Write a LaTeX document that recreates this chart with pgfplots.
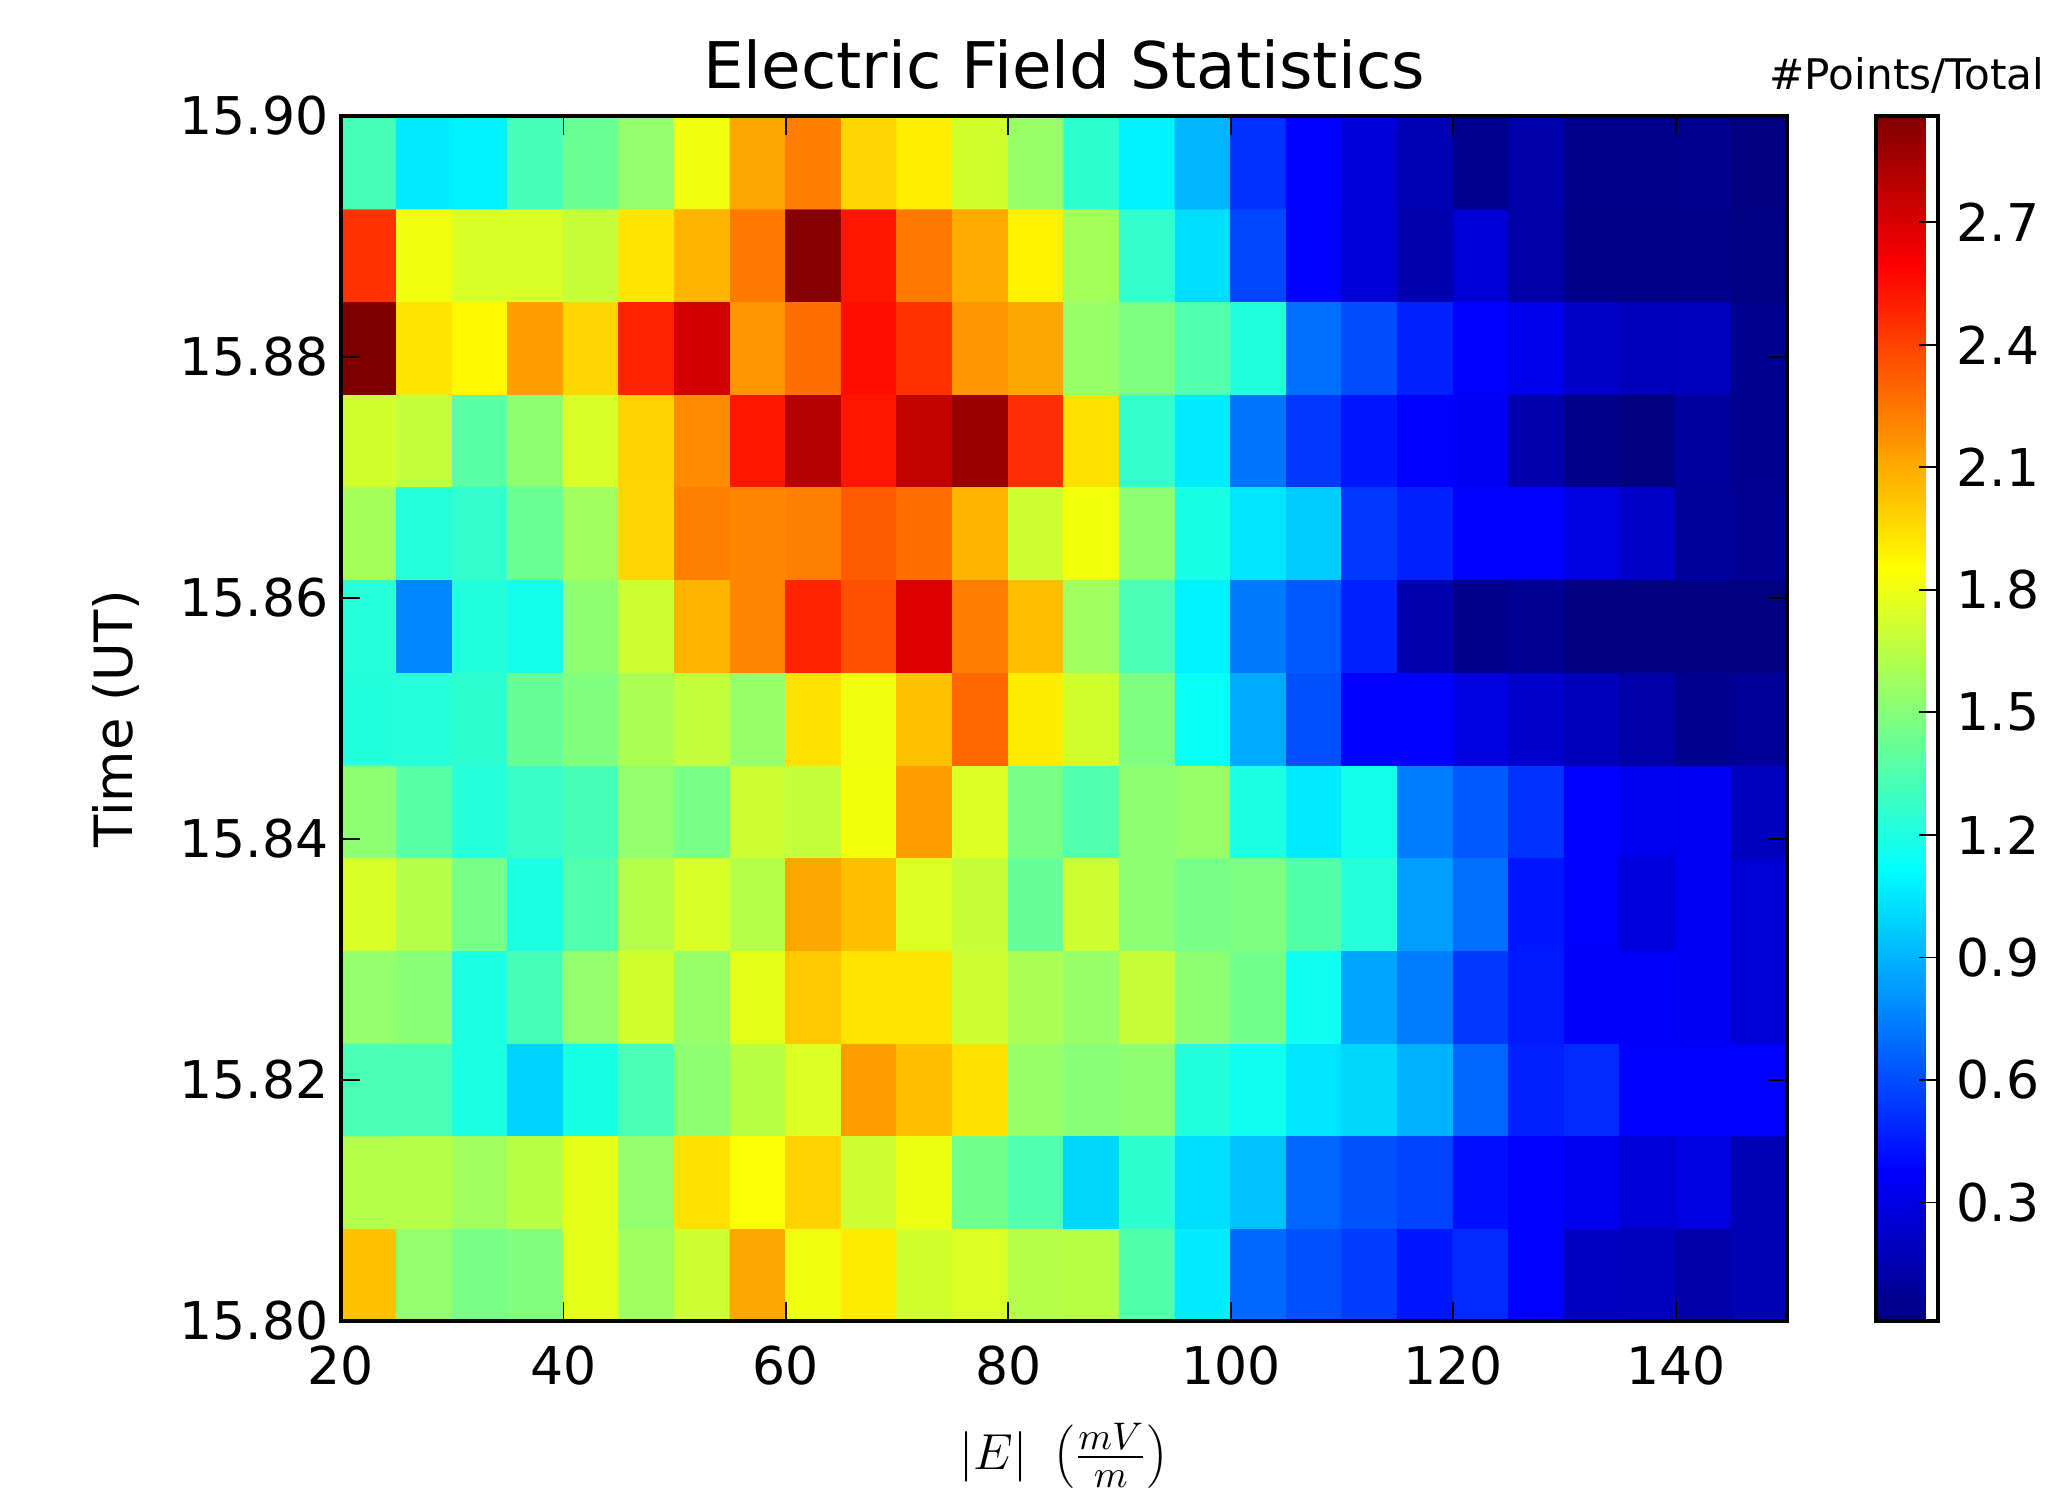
\documentclass[border=0pt]{standalone}
\usepackage{fontspec}
\setmainfont{DejaVu Sans}
\usepackage{pgfplots}
\pgfplotsset{compat=1.18}
\begin{document}
\begin{tikzpicture}
\path[use as bounding box] (-3.41,-1.74) rectangle (17.30,13.21);
\begin{axis}[
  at={(0,0)}, anchor=south west,
  scale only axis, width=14.46cm, height=12.05cm,
  xmin=20, xmax=150, ymin=15.80, ymax=15.90,
  enlargelimits=false, axis on top,
  colormap/jet, point meta min=0.01, point meta max=2.96,
  /pgf/number format/assume math mode=true,
  xtick={20,40,60,80,100,120,140},
  ytick={15.80,15.82,15.84,15.86,15.88,15.90},
  yticklabel style={/pgf/number format/fixed, /pgf/number format/precision=2, /pgf/number format/fixed zerofill},
  xticklabel style={yshift=-0.12cm},
  tick label style={font=\fontsize{14.8}{17}\selectfont},
  tick style={line width=0.5pt, black},
  major tick length=0.19cm, tick align=inside, tick pos=both,
  axis line style={line width=1pt},
  title={Electric Field Statistics},
  title style={font=\fontsize{18.3}{22}\selectfont, at={(axis description cs:0.5,1.025)}, anchor=center},
  xlabel={$|E|\ \left(\frac{mV}{m}\right)$},
  xlabel style={font=\fontsize{15.5}{18}\selectfont, at={(axis description cs:0.5,-0.112)}, anchor=center},
  ylabel={Time (UT)},
  ylabel style={font=\fontsize{15}{18}\selectfont, at={(axis description cs:-0.1556,0.5)}, anchor=center},
  colorbar,
  colorbar style={
    at={(parent axis.north east)}, anchor=north west, xshift=0.59cm,
    scale only axis, width=0.62cm, height=12.05cm,
    /pgf/number format/assume math mode=true,
    ytick={0.3,0.6,0.9,1.2,1.5,1.8,2.1,2.4,2.7},
    yticklabel style={/pgf/number format/fixed, /pgf/number format/precision=1, /pgf/number format/fixed zerofill, xshift=0.06cm},
    tick label style={font=\fontsize{14.8}{17}\selectfont},
    ytick pos=right, tick align=inside, major tick length=0.19cm,
    tick style={line width=0.5pt, black},
    axis line style={line width=1.1pt},
    title={\#Points/Total},
    title style={at={(0.5,1)}, anchor=center, yshift=0.19cm, font=\fontsize{12}{14}\selectfont},
  },
]
\addplot[matrix plot*, mesh/cols=26, point meta=explicit] table[x=x, y=y, meta=c] {
x y c
22.5 15.803846 2.03
27.5 15.803846 1.54
32.5 15.803846 1.46
37.5 15.803846 1.49
42.5 15.803846 1.78
47.5 15.803846 1.58
52.5 15.803846 1.71
57.5 15.803846 2.11
62.5 15.803846 1.81
67.5 15.803846 1.91
72.5 15.803846 1.72
77.5 15.803846 1.75
82.5 15.803846 1.64
87.5 15.803846 1.65
92.5 15.803846 1.36
97.5 15.803846 1.06
102.5 15.803846 0.68
107.5 15.803846 0.61
112.5 15.803846 0.55
117.5 15.803846 0.44
122.5 15.803846 0.50
127.5 15.803846 0.38
132.5 15.803846 0.21
137.5 15.803846 0.19
142.5 15.803846 0.12
147.5 15.803846 0.16
22.5 15.811538 1.64
27.5 15.811538 1.64
32.5 15.811538 1.58
37.5 15.811538 1.65
42.5 15.811538 1.78
47.5 15.811538 1.54
52.5 15.811538 1.94
57.5 15.811538 1.84
62.5 15.811538 1.98
67.5 15.811538 1.71
72.5 15.811538 1.80
77.5 15.811538 1.45
82.5 15.811538 1.35
87.5 15.811538 1.00
92.5 15.811538 1.25
97.5 15.811538 1.02
102.5 15.811538 0.94
107.5 15.811538 0.67
112.5 15.811538 0.62
117.5 15.811538 0.57
122.5 15.811538 0.42
127.5 15.811538 0.38
132.5 15.811538 0.33
137.5 15.811538 0.26
142.5 15.811538 0.29
147.5 15.811538 0.16
22.5 15.819231 1.33
27.5 15.819231 1.33
32.5 15.819231 1.20
37.5 15.819231 0.99
42.5 15.819231 1.19
47.5 15.819231 1.33
52.5 15.819231 1.52
57.5 15.819231 1.65
62.5 15.819231 1.75
67.5 15.819231 2.14
72.5 15.819231 2.04
77.5 15.819231 1.94
82.5 15.819231 1.55
87.5 15.819231 1.51
92.5 15.819231 1.52
97.5 15.819231 1.22
102.5 15.819231 1.16
107.5 15.819231 1.04
112.5 15.819231 1.00
117.5 15.819231 0.89
122.5 15.819231 0.67
127.5 15.819231 0.47
132.5 15.819231 0.50
137.5 15.819231 0.38
142.5 15.819231 0.38
147.5 15.819231 0.38
22.5 15.826923 1.54
27.5 15.826923 1.51
32.5 15.826923 1.20
37.5 15.826923 1.32
42.5 15.826923 1.54
47.5 15.826923 1.72
52.5 15.826923 1.55
57.5 15.826923 1.78
62.5 15.826923 2.01
67.5 15.826923 1.93
72.5 15.826923 1.93
77.5 15.826923 1.71
82.5 15.826923 1.61
87.5 15.826923 1.55
92.5 15.826923 1.69
97.5 15.826923 1.52
102.5 15.826923 1.45
107.5 15.826923 1.16
112.5 15.826923 0.86
117.5 15.826923 0.74
122.5 15.826923 0.54
127.5 15.826923 0.45
132.5 15.826923 0.37
137.5 15.826923 0.37
142.5 15.826923 0.35
147.5 15.826923 0.25
22.5 15.834615 1.74
27.5 15.834615 1.64
32.5 15.834615 1.46
37.5 15.834615 1.20
42.5 15.834615 1.35
47.5 15.834615 1.64
52.5 15.834615 1.74
57.5 15.834615 1.64
62.5 15.834615 2.11
67.5 15.834615 2.04
72.5 15.834615 1.75
77.5 15.834615 1.69
82.5 15.834615 1.41
87.5 15.834615 1.71
92.5 15.834615 1.52
97.5 15.834615 1.46
102.5 15.834615 1.48
107.5 15.834615 1.36
112.5 15.834615 1.23
117.5 15.834615 0.84
122.5 15.834615 0.70
127.5 15.834615 0.44
132.5 15.834615 0.38
137.5 15.834615 0.28
142.5 15.834615 0.35
147.5 15.834615 0.25
22.5 15.842308 1.52
27.5 15.842308 1.38
32.5 15.842308 1.23
37.5 15.842308 1.28
42.5 15.842308 1.32
47.5 15.842308 1.54
52.5 15.842308 1.46
57.5 15.842308 1.71
62.5 15.842308 1.68
67.5 15.842308 1.82
72.5 15.842308 2.13
77.5 15.842308 1.75
82.5 15.842308 1.46
87.5 15.842308 1.35
92.5 15.842308 1.52
97.5 15.842308 1.55
102.5 15.842308 1.20
107.5 15.842308 1.06
112.5 15.842308 1.17
117.5 15.842308 0.74
122.5 15.842308 0.64
127.5 15.842308 0.52
132.5 15.842308 0.38
137.5 15.842308 0.33
142.5 15.842308 0.35
147.5 15.842308 0.19
22.5 15.85 1.22
27.5 15.85 1.23
32.5 15.85 1.25
37.5 15.85 1.41
42.5 15.85 1.49
47.5 15.85 1.61
52.5 15.85 1.68
57.5 15.85 1.55
62.5 15.85 1.94
67.5 15.85 1.81
72.5 15.85 2.03
77.5 15.85 2.29
82.5 15.85 1.91
87.5 15.85 1.72
92.5 15.85 1.48
97.5 15.85 1.14
102.5 15.85 0.87
107.5 15.85 0.61
112.5 15.85 0.38
117.5 15.85 0.38
122.5 15.85 0.29
127.5 15.85 0.23
132.5 15.85 0.18
137.5 15.85 0.13
142.5 15.85 0.06
147.5 15.85 0.08
22.5 15.857692 1.23
27.5 15.857692 0.77
32.5 15.857692 1.22
37.5 15.857692 1.17
42.5 15.857692 1.52
47.5 15.857692 1.71
52.5 15.857692 2.07
57.5 15.857692 2.20
62.5 15.857692 2.49
67.5 15.857692 2.36
72.5 15.857692 2.69
77.5 15.857692 2.23
82.5 15.857692 2.04
87.5 15.857692 1.58
92.5 15.857692 1.33
97.5 15.857692 1.08
102.5 15.857692 0.73
107.5 15.857692 0.64
112.5 15.857692 0.47
117.5 15.857692 0.15
122.5 15.857692 0.04
127.5 15.857692 0.07
132.5 15.857692 0.01
137.5 15.857692 0.01
142.5 15.857692 0.01
147.5 15.857692 0.01
22.5 15.865385 1.59
27.5 15.865385 1.23
32.5 15.865385 1.26
37.5 15.865385 1.43
42.5 15.865385 1.58
47.5 15.865385 1.97
52.5 15.865385 2.22
57.5 15.865385 2.20
62.5 15.865385 2.22
67.5 15.865385 2.33
72.5 15.865385 2.27
77.5 15.865385 2.07
82.5 15.865385 1.71
87.5 15.865385 1.82
92.5 15.865385 1.52
97.5 15.865385 1.19
102.5 15.865385 1.04
107.5 15.865385 0.97
112.5 15.865385 0.54
117.5 15.865385 0.47
122.5 15.865385 0.38
127.5 15.865385 0.38
132.5 15.865385 0.29
137.5 15.865385 0.22
142.5 15.865385 0.09
147.5 15.865385 0.07
22.5 15.873077 1.72
27.5 15.873077 1.68
32.5 15.873077 1.38
37.5 15.873077 1.52
42.5 15.873077 1.74
47.5 15.873077 1.98
52.5 15.873077 2.19
57.5 15.873077 2.53
62.5 15.873077 2.81
67.5 15.873077 2.53
72.5 15.873077 2.77
77.5 15.873077 2.89
82.5 15.873077 2.46
87.5 15.873077 1.94
92.5 15.873077 1.26
97.5 15.873077 1.06
102.5 15.873077 0.71
107.5 15.873077 0.54
112.5 15.873077 0.44
117.5 15.873077 0.38
122.5 15.873077 0.35
127.5 15.873077 0.15
132.5 15.873077 0.04
137.5 15.873077 0.01
142.5 15.873077 0.10
147.5 15.873077 0.06
22.5 15.880769 2.96
27.5 15.880769 1.93
32.5 15.880769 1.87
37.5 15.880769 2.13
42.5 15.880769 1.97
47.5 15.880769 2.49
52.5 15.880769 2.72
57.5 15.880769 2.16
62.5 15.880769 2.27
67.5 15.880769 2.55
72.5 15.880769 2.45
77.5 15.880769 2.16
82.5 15.880769 2.11
87.5 15.880769 1.55
92.5 15.880769 1.48
97.5 15.880769 1.35
102.5 15.880769 1.22
107.5 15.880769 0.70
112.5 15.880769 0.60
117.5 15.880769 0.47
122.5 15.880769 0.38
127.5 15.880769 0.32
132.5 15.880769 0.22
137.5 15.880769 0.18
142.5 15.880769 0.20
147.5 15.880769 0.06
22.5 15.888462 2.45
27.5 15.888462 1.81
32.5 15.888462 1.74
37.5 15.888462 1.74
42.5 15.888462 1.69
47.5 15.888462 1.93
52.5 15.888462 2.07
57.5 15.888462 2.24
62.5 15.888462 2.94
67.5 15.888462 2.53
72.5 15.888462 2.24
77.5 15.888462 2.10
82.5 15.888462 1.89
87.5 15.888462 1.59
92.5 15.888462 1.26
97.5 15.888462 1.02
102.5 15.888462 0.58
107.5 15.888462 0.38
112.5 15.888462 0.26
117.5 15.888462 0.15
122.5 15.888462 0.26
127.5 15.888462 0.12
132.5 15.888462 0.03
137.5 15.888462 0.03
142.5 15.888462 0.04
147.5 15.888462 0.02
22.5 15.896154 1.32
27.5 15.896154 1.06
32.5 15.896154 1.08
37.5 15.896154 1.32
42.5 15.896154 1.43
47.5 15.896154 1.54
52.5 15.896154 1.81
57.5 15.896154 2.11
62.5 15.896154 2.23
67.5 15.896154 1.97
72.5 15.896154 1.90
77.5 15.896154 1.72
82.5 15.896154 1.56
87.5 15.896154 1.25
92.5 15.896154 1.08
97.5 15.896154 0.90
102.5 15.896154 0.52
107.5 15.896154 0.38
112.5 15.896154 0.26
117.5 15.896154 0.16
122.5 15.896154 0.05
127.5 15.896154 0.14
132.5 15.896154 0.04
137.5 15.896154 0.04
142.5 15.896154 0.06
147.5 15.896154 0.01
};
\end{axis}
\end{tikzpicture}
\end{document}
